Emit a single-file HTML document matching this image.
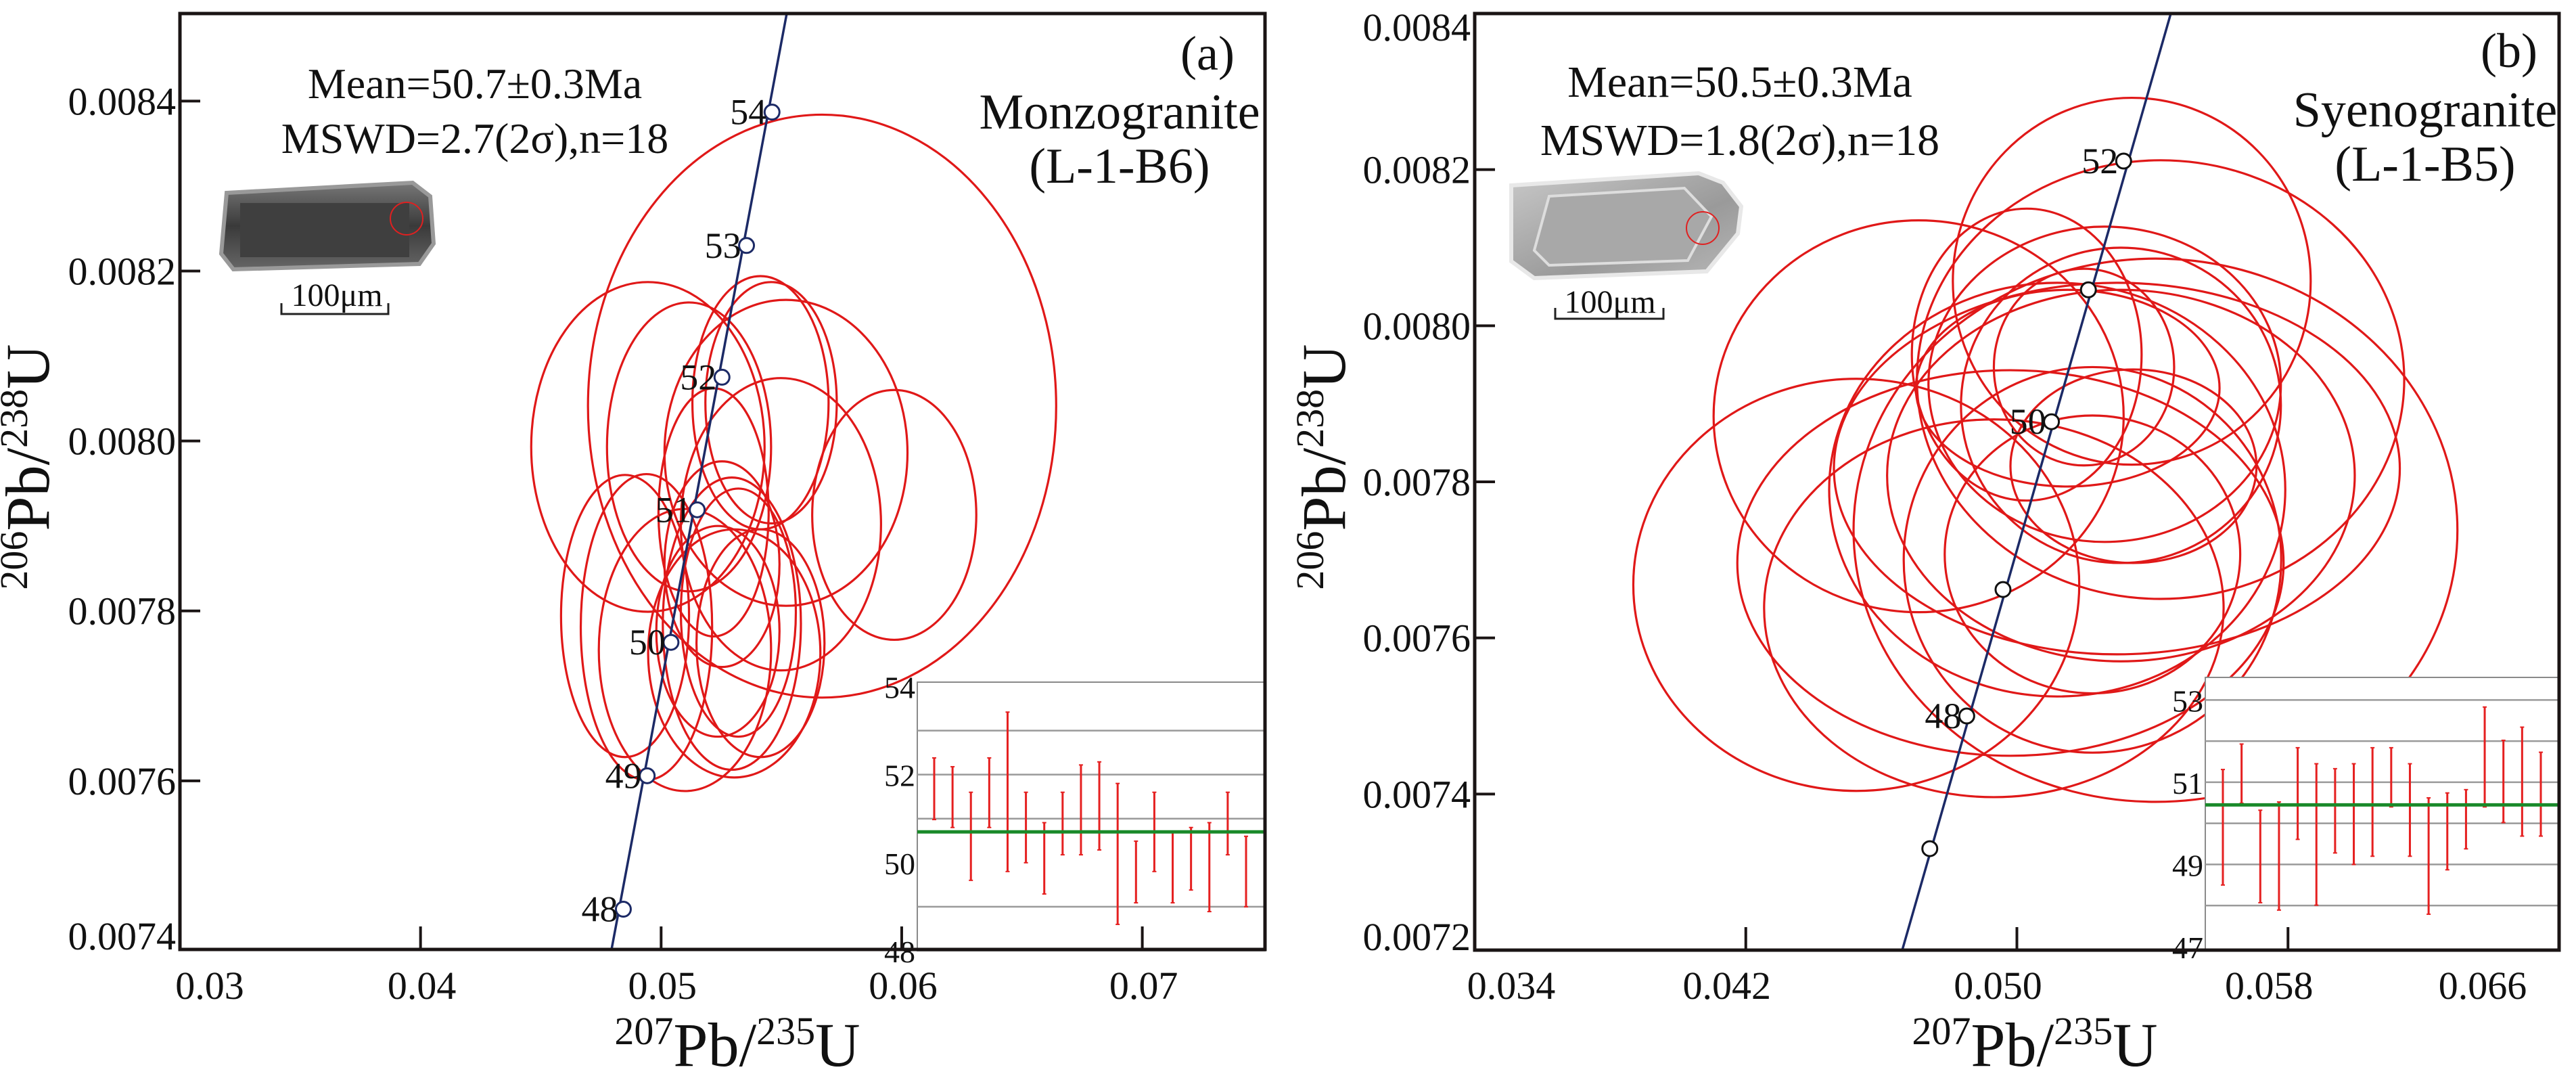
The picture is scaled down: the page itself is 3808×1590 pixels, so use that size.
<!DOCTYPE html>
<html><head><meta charset="utf-8"><style>
html,body{margin:0;padding:0;background:#fff;}
svg{display:block;}
text{font-family:"Liberation Serif",serif;fill:#111;}
</style></head>
<body>
<svg id="fig" width="3808" height="1590" viewBox="0 0 3808 1590" xmlns="http://www.w3.org/2000/svg">
<defs>
<linearGradient id="za" x1="0" y1="0" x2="0" y2="1"><stop offset="0" stop-color="#777"/><stop offset="0.5" stop-color="#3a3a3a"/><stop offset="1" stop-color="#666"/></linearGradient>
<linearGradient id="zb" x1="0" y1="0" x2="1" y2="1"><stop offset="0" stop-color="#c8c8c8"/><stop offset="0.6" stop-color="#9a9a9a"/><stop offset="1" stop-color="#b8b8b8"/></linearGradient>
</defs>
<rect x="0" y="0" width="3808" height="1590" fill="#fff"/>
<g id="pa"></g>
<g id="pb"></g>
</svg>
<script>
// ---------- Panel A data ----------
const aXTicks = [0.03, 0.04, 0.05, 0.06, 0.07];
const aYTicks = [0.0084, 0.0082, 0.0080, 0.0078, 0.0076, 0.0074];
const aAges = [48, 49, 50, 51, 52, 53, 54];
const aConX = [0.04843, 0.04942, 0.05041, 0.05150, 0.05253, 0.05355, 0.05461];
const aConY = [0.007449, 0.007606, 0.007763, 0.007919, 0.008075, 0.008230, 0.008387];
const aEllCx = [0.05669,0.04945,0.05413,0.05457,0.05116,0.05519,0.05969,0.05498,0.05218,0.04939,0.04850,0.05294,0.05321,0.05304,0.05099,0.05236,0.05413,0.05253];
const aEllCy = [0.008041,0.007993,0.008045,0.008045,0.007993,0.007986,0.007913,0.007902,0.007916,0.007781,0.007794,0.007785,0.007798,0.007750,0.007754,0.007776,0.007762,0.007855];
const aEllRx = [0.00973,0.00485,0.00283,0.00273,0.00341,0.00505,0.00341,0.00416,0.00229,0.00273,0.00266,0.00287,0.00239,0.00358,0.00358,0.00256,0.00266,0.00239];
const aEllRy = [0.000343,0.000194,0.000149,0.000142,0.000170,0.000180,0.000147,0.000172,0.000146,0.000180,0.000166,0.000172,0.000146,0.000146,0.000166,0.000124,0.000134,0.000121];
const aAgeHi = [52.38,52.18,51.60,52.38,53.42,51.60,50.91,51.60,52.22,52.29,51.80,50.49,51.60,50.69,50.80,50.91,51.60,50.60];
const aAgeLo = [50.98,50.80,49.60,50.80,49.80,50.00,49.29,50.18,50.18,50.29,48.60,49.09,49.80,49.09,49.38,48.89,50.18,49.00];
const aMean = [50.7];
const aInsetTicks = [54, 52, 50, 48];
const aInsetGrid = [53, 52, 51, 49];

// ---------- Panel B data ----------
const bXTicks = [0.034, 0.042, 0.050, 0.058, 0.066];
const bYTicks = [0.0084, 0.0082, 0.0080, 0.0078, 0.0076, 0.0074, 0.0072];
const bAges = [47, 48, 49, 50, 51, 52];
const bAgeLabels = ["", "48", "", "50", "", "52"];
const bConX = [0.04743, 0.04852, 0.04959, 0.05102, 0.05211, 0.05315];
const bConY = [0.007330, 0.007500, 0.007662, 0.007877, 0.008046, 0.008211];
const bEllCx = [0.04526,0.04710,0.04981,0.04932,0.05119,0.05223,0.05409,0.05339,0.05424,0.05029,0.05259,0.05307,0.05198,0.05344,0.05295,0.05307,0.05150,0.05223];
const bEllCy = [0.007668,0.007884,0.007696,0.007638,0.007790,0.007700,0.007738,0.008057,0.007931,0.007963,0.007925,0.007898,0.007947,0.007820,0.007817,0.007808,0.007920,0.007707];
const bEllRx = [0.00658,0.00605,0.00806,0.00678,0.00673,0.00557,0.00891,0.00528,0.00719,0.00339,0.00520,0.00472,0.00266,0.00363,0.00835,0.00690,0.00448,0.00436];
const bEllRy = [0.000264,0.000251,0.000247,0.000242,0.000265,0.000247,0.000348,0.000235,0.000281,0.000187,0.000202,0.000202,0.000126,0.000124,0.000238,0.000238,0.000126,0.000178];
const bAgeHi = [51.31,51.93,50.32,50.52,51.84,51.45,51.33,51.45,51.84,51.84,51.45,50.62,50.74,50.82,52.83,52.02,52.34,51.73];
const bAgeLo = [48.50,50.49,48.07,47.89,49.61,48.01,49.28,49.00,49.20,50.40,49.20,47.79,48.87,49.38,50.40,50.02,49.69,49.69];
const bMean = [50.45];
const bInsetTicks = [53, 51, 49, 47];
const bInsetGrid = [53, 52, 51, 50, 49, 48];

const NS = "http://www.w3.org/2000/svg";
function mk(parent, tag, attrs, txt){
  const e = document.createElementNS(NS, tag);
  for (const k in attrs) e.setAttribute(k, attrs[k]);
  if (txt !== undefined) e.textContent = txt;
  parent.appendChild(e);
  return e;
}

function panel(g, cfg){
  const L=cfg.L, R=cfg.R, T=cfg.T, B=cfg.B;
  const sx = v => L + (v - cfg.x0) / (cfg.x1 - cfg.x0) * (R - L);
  const sy = v => B - (v - cfg.y0) / (cfg.y1 - cfg.y0) * (B - T);
  const eg = mk(g, "g", {});
  
  
  for (let i=0;i<cfg.cx.length;i++){
    const e = mk(eg, "ellipse", {cx:sx(cfg.cx[i]), cy:sy(cfg.cy[i]), rx:cfg.rx[i]/(cfg.x1-cfg.x0)*(R-L), ry:cfg.ry[i]/(cfg.y1-cfg.y0)*(B-T), fill:"none", stroke:"#e01818", "stroke-width":3.2});
    
    
  }
  const cl = mk(g, "line", {x1:cfg.lineB[0], y1:B, x2:cfg.lineT[0], y2:T, stroke:"#1c2a66", "stroke-width":3.5});
  
  
  for (let i=0;i<cfg.ages.length;i++){
    const px=sx(cfg.conX[i]), py=sy(cfg.conY[i]);
    const c = mk(g, "circle", {cx:px, cy:py, r:11, fill:"#fff", stroke:cfg.mkStroke, "stroke-width":3});
    
    
    const lab = cfg.ageLabels ? cfg.ageLabels[i] : String(cfg.ages[i]);
    if (lab){
      const t = mk(g, "text", {x:px-8, y:py+18, "font-size":54, "text-anchor":"end"}, lab);
      
      
    }
  }
  const ig = mk(g, "g", {});
  
  
  const I = cfg.inset;
  const iy = v => I.B - (v - I.v0)/(I.v1 - I.v0)*(I.B - I.T);
  mk(ig, "rect", {x:I.L, y:I.T, width:I.R-I.L, height:I.B-I.T, fill:"#fff", stroke:"#8a8a8a", "stroke-width":2});
  for (const v of cfg.grid){
    const gl = mk(ig, "line", {x1:I.L, x2:I.R, y1:iy(v), y2:iy(v), stroke:"#9a9a9a", "stroke-width":2.5});
    
    
  }
  for (const v of cfg.iticks){
    const t = mk(ig, "text", {x:I.L-3, y:iy(v)+17, "font-size":46, "text-anchor":"end"}, String(v));
    
    
  }
  const n = cfg.hi.length;
  for (let i=0;i<n;i++){
    const x = I.b0 + i*(I.b1 - I.b0)/(n-1);
    const bar = mk(ig, "line", {x1:x, x2:x, y1:iy(cfg.hi[i]), y2:iy(cfg.lo[i]), stroke:"#e52020", "stroke-width":3});
    
    
    mk(ig, "line", {x1:x-3, x2:x+3, y1:iy(cfg.hi[i]), y2:iy(cfg.hi[i]), stroke:"#e52020", "stroke-width":2});
    mk(ig, "line", {x1:x-3, x2:x+3, y1:iy(cfg.lo[i]), y2:iy(cfg.lo[i]), stroke:"#e52020", "stroke-width":2});
  }
  const ml = mk(ig, "line", {x1:I.L, x2:I.R, y1:iy(cfg.mean[0]), y2:iy(cfg.mean[0]), stroke:"#1a8a2a", "stroke-width":5});
  
  
  const fr = mk(g, "rect", {x:L, y:T, width:R-L, height:B-T, fill:"none", stroke:"#1a1414", "stroke-width":5});
  
  
  for (const v of cfg.xt){
    const x = sx(v);
    if (x > L+5 && x < R-5){
      const tk = mk(g, "line", {x1:x, x2:x, y1:B, y2:B-34, stroke:"#1a1414", "stroke-width":4});
      
      
    }
    let lx = Math.min(Math.max(x + cfg.xlOff, cfg.xlMin), cfg.xlMax);
    const t = mk(g, "text", {x:lx, y:1476, "font-size":58, "text-anchor":"middle"}, v.toFixed(cfg.xDec));
    
    
  }
  for (const v of cfg.yt){
    const y = sy(v);
    if (y > T+5 && y < B-5){
      const tk = mk(g, "line", {x1:L, x2:L+30, y1:y, y2:y, stroke:"#1a1414", "stroke-width":4});
      
      
    }
    const ly = Math.min(Math.max(y, T+20), B-20);
    const t = mk(g, "text", {x:L-6, y:ly+20, "font-size":58, "text-anchor":"end"}, v.toFixed(4));
    
    
  }
}

const pa = document.getElementById('pa');
panel(pa, {L:266,R:1870,T:20,B:1403,x0:0.03,x1:0.0751,y0:0.0074016,y1:0.008503,
  cx:aEllCx,cy:aEllCy,rx:aEllRx,ry:aEllRy,ages:aAges,conX:aConX,conY:aConY,
  lineB:[904],lineT:[1163],mkStroke:"#1c2a66",
  inset:{L:1356,R:1870,T:1008,B:1405,v0:48,v1:54.1,b0:1381,b1:1842},
  grid:aInsetGrid,iticks:aInsetTicks,hi:aAgeHi,lo:aAgeLo,mean:aMean,
  xt:aXTicks,yt:aYTicks,xlOff:2,xlMin:310,xlMax:1800,xDec:2});
const pb = document.getElementById('pb');
panel(pb, {L:2180,R:3783,T:20,B:1404,x0:0.034,x1:0.066,y0:0.0072,y1:0.0084,
  cx:bEllCx,cy:bEllCy,rx:bEllRx,ry:bEllRy,ages:bAges,ageLabels:bAgeLabels,conX:bConX,conY:bConY,
  lineB:[2812],lineT:[3209],mkStroke:"#111",
  inset:{L:3260,R:3783,T:1001,B:1405,v0:46.9,v1:53.55,b0:3286,b1:3756},
  grid:bInsetGrid,iticks:bInsetTicks,hi:bAgeHi,lo:bAgeLo,mean:bMean,
  xt:bXTicks,yt:bYTicks,xlOff:-28,xlMin:2234,xlMax:3670,xDec:3});

(function(){
const svg=document.getElementById('fig');
function t(x,y,s,fs,anchor,name,extra){const e=document.createElementNS(NS,"text");e.setAttribute("x",x);e.setAttribute("y",y);e.setAttribute("font-size",fs);e.setAttribute("text-anchor",anchor||"middle");if(extra)for(const k in extra)e.setAttribute(k,extra[k]);e.innerHTML=s;


svg.appendChild(e);return e;}
function add(tag,a,name){const e=document.createElementNS(NS,tag);for(const k in a)e.setAttribute(k,a[k]);


svg.appendChild(e);return e;}
t(702,145,"Mean=50.7±0.3Ma",64,"middle","mean-age-text-a");
t(702,226,"MSWD=2.7(2σ),n=18",64,"middle","mswd-text-a");
t(1785,103,"(a)",72,"middle","panel-label-a");
t(1655,190,"Monzogranite",74,"middle","rock-name-a");
t(1655,270,"(L-1-B6)",74,"middle","sample-id-a");
t(2572,143,"Mean=50.5±0.3Ma",66,"middle","mean-age-text-b");
t(2572,229,"MSWD=1.8(2σ),n=18",66,"middle","mswd-text-b");
t(3709,99,"(b)",72,"middle","panel-label-b");
t(3585,187,"Syenogranite",74,"middle","rock-name-b");
t(3585,267,"(L-1-B5)",74,"middle","sample-id-b");
const xt='<tspan font-size="58" dy="-32">207</tspan><tspan dy="32">Pb/</tspan><tspan font-size="58" dy="-32">235</tspan><tspan dy="32">U</tspan>';
const yt='<tspan font-size="58" dy="-32">206</tspan><tspan dy="32">Pb/</tspan><tspan font-size="58" dy="-32">238</tspan><tspan dy="32">U</tspan>';
t(1090,1575,xt,92,"middle","x-axis-title-a");
t(3008,1575,xt,92,"middle","x-axis-title-b");
t(0,0,yt,92,"middle","y-axis-title-a",{transform:"translate(72,690) rotate(-90)"});
t(0,0,yt,92,"middle","y-axis-title-b",{transform:"translate(1988,690) rotate(-90)"});
t(498,452,"100μm",48,"middle","scale-bar-label-a");
t(2380,462,"100μm",48,"middle","scale-bar-label-b");
add("path",{d:"M335 285 L610 270 L636 290 L641 360 L620 390 L345 398 L327 375 Z",fill:"url(#za)",stroke:"#999","stroke-width":6},"zircon-image-a");
add("rect",{x:355,y:300,width:250,height:80,fill:"#3f3f3f"},"zircon-core-a");
add("circle",{cx:601,cy:323,r:24,fill:"none",stroke:"#e02020","stroke-width":2},"spot-circle-a");
add("path",{d:"M416 448 L416 464 L574 464 L574 448",fill:"none",stroke:"#222","stroke-width":3},"scale-bar-a");
add("path",{d:"M2234 274 L2511 256 L2547 270 L2574 305 L2569 345 L2523 401 L2268 411 L2234 386 Z",fill:"url(#zb)",stroke:"#e8e8e8","stroke-width":6},"zircon-image-b");
add("path",{d:"M2290 290 L2490 278 L2530 320 L2495 385 L2290 392 L2268 370 Z",fill:"#a8a8a8",stroke:"#ddd","stroke-width":4},"zircon-core-b");
add("circle",{cx:2517,cy:337,r:24,fill:"none",stroke:"#e02020","stroke-width":2},"spot-circle-b");
add("path",{d:"M2299 455 L2299 471 L2459 471 L2459 455",fill:"none",stroke:"#222","stroke-width":3},"scale-bar-b");
})();
</script>
</body></html>
